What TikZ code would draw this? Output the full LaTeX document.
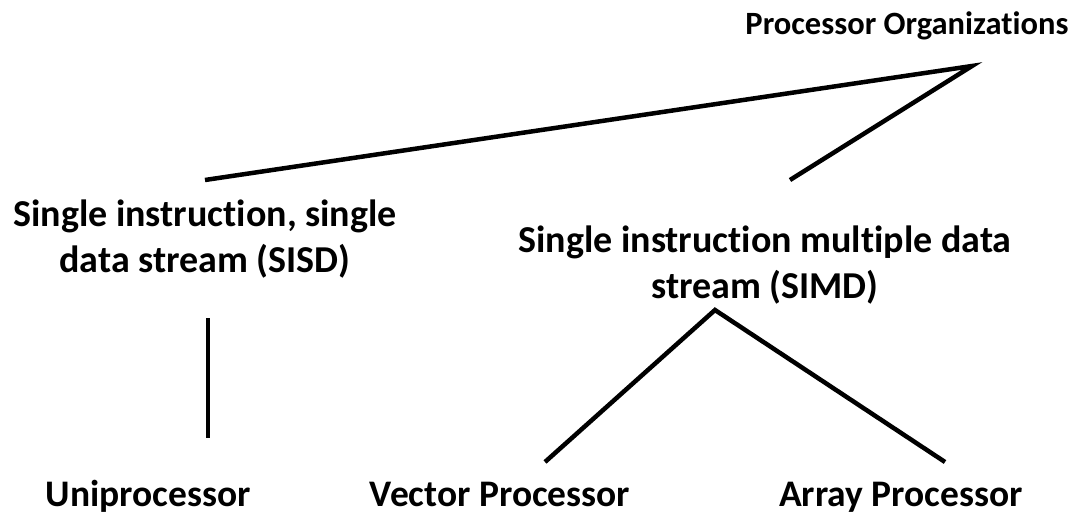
\documentclass[tikz,border=0pt]{standalone}
\usepackage{fontspec}
\setmainfont{Carlito}[RawFeature={-liga}]
\begin{document}
\begin{tikzpicture}[x=1pt,y=-1pt,
  label/.style={font=\bfseries\fontsize{38}{46}\selectfont, align=center, inner sep=0pt, anchor=base},
  leaflabel/.style={label, font=\bfseries\fontsize{37.5}{46}\selectfont},
  toplabel/.style={label, font=\bfseries\fontsize{32.5}{40}\selectfont},
  link/.style={line width=4.5pt}]
\useasboundingbox[fill=white] (0,0) rectangle (1079,516);

% category labels (positions are baselines of the last line)
\node[toplabel]  (po)   at (907,35)  {Processor Organizations};
\node[label]     (sisd) at (205,272) {Single instruction, single\\data stream (SISD)};
\node[label]     (simd) at (765,298) {Single instruction multiple data\\stream (SIMD)};
\node[leaflabel] (uni)  at (148,506) {Uniprocessor};
\node[leaflabel] (vec)  at (500,506) {Vector Processor};
\node[leaflabel] (arr)  at (901,506) {Array Processor};

% branch end points
\coordinate (poApex)   at (972,66);
\coordinate (sisdTop)  at (205,180);
\coordinate (simdTop)  at (790,180);
\coordinate (sisdDown) at (208,318);
\coordinate (uniUp)    at (208,438);
\coordinate (simdApex) at (715,310);
\coordinate (vecUp)    at (545,462);
\coordinate (arrUp)    at (945,462);

% tree branches
\draw[link] (sisdTop) -- (poApex) -- (simdTop);
\draw[link] (sisdDown) -- (uniUp);
\draw[link] (vecUp) -- (simdApex) -- (arrUp);
\end{tikzpicture}
\end{document}
